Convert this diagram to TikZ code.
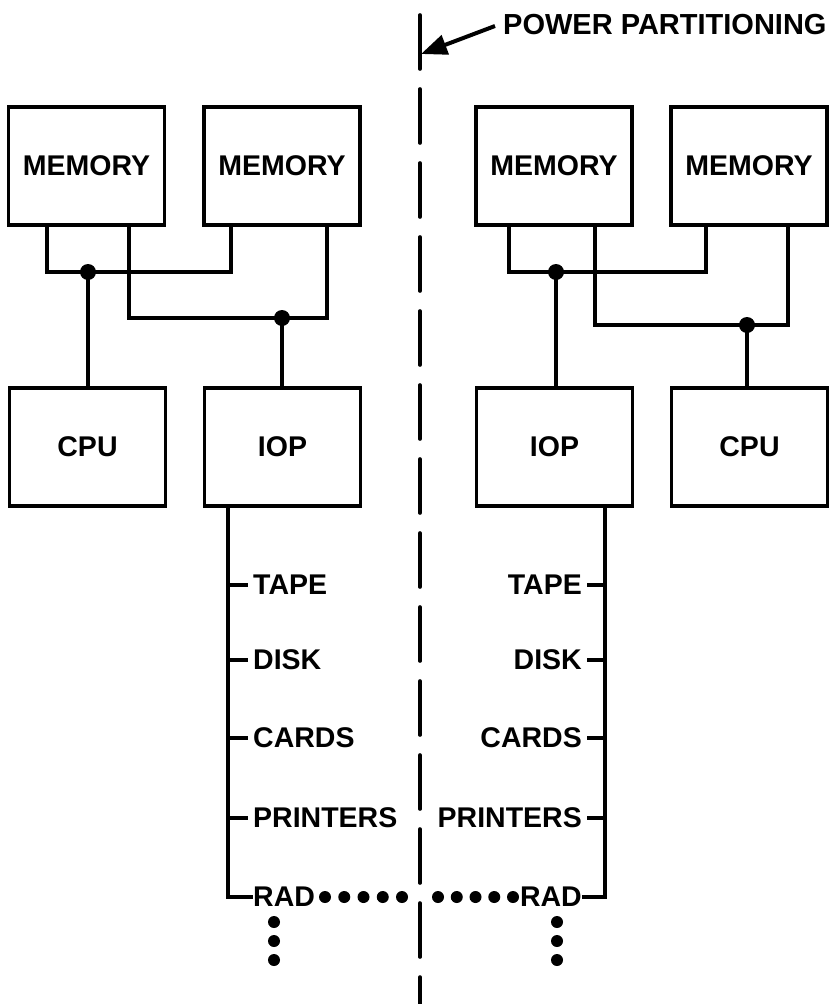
\documentclass[tikz,border=0pt]{standalone}
\usepackage{fontspec}
\setmainfont{Liberation Sans}
\usetikzlibrary{arrows.meta,calc}
\begin{document}
\begin{tikzpicture}[x=1pt,y=-1pt,
  unit/.style={draw,line width=3.2pt,minimum width=156pt,minimum height=118pt,inner sep=0pt,font=\fontsize{28.5}{31}\selectfont\bfseries},
  wire/.style={line width=3.2pt,line join=miter},
  lab/.style={inner sep=0pt,font=\fontsize{28.5}{31}\selectfont\bfseries},
  junc/.style={fill=black},
  partline/.style={line width=3.6pt,line cap=round,dash pattern=on 54pt off 20pt}]
\useasboundingbox (0,0) rectangle (833,1004);
% boxes
\node[unit] (m1) at (86.5,166) {MEMORY};
\node[unit] (m2) at (282,166) {MEMORY};
\node[unit] (c1) at (87.5,447) {CPU};
\node[unit] (i1) at (282.5,447) {IOP};
\node[unit] (m3) at (554,166) {MEMORY};
\node[unit] (m4) at (749,166) {MEMORY};
\node[unit] (i2) at (554.5,447) {IOP};
\node[unit] (c2) at (749.5,447) {CPU};
% left buses
\coordinate (la1) at (47,272); \coordinate (lb1) at (231,272); \coordinate (lj1) at (88,272);
\coordinate (la2) at (129,318); \coordinate (lb2) at (327,318); \coordinate (lj2) at (282,318);
\draw[wire] (m1.south -| la1) -- (la1) -- (lb1) -- (m2.south -| lb1);
\draw[wire] (m1.south -| la2) -- (la2) -- (lb2) -- (m2.south -| lb2);
\draw[wire] (lj1) -- (c1.north -| lj1);
\draw[wire] (lj2) -- (i1.north -| lj2);
\fill[junc] (lj1) circle (8pt);
\fill[junc] (lj2) circle (8pt);
% right buses
\coordinate (ra1) at (509,272); \coordinate (rb1) at (706,272); \coordinate (rj1) at (556,272);
\coordinate (ra2) at (595,325); \coordinate (rb2) at (788,325); \coordinate (rj2) at (747,325);
\draw[wire] (m3.south -| ra1) -- (ra1) -- (rb1) -- (m4.south -| rb1);
\draw[wire] (m3.south -| ra2) -- (ra2) -- (rb2) -- (m4.south -| rb2);
\draw[wire] (rj1) -- (i2.north -| rj1);
\draw[wire] (rj2) -- (c2.north -| rj2);
\fill[junc] (rj1) circle (8pt);
\fill[junc] (rj2) circle (8pt);
% left peripherals
\coordinate (lbus) at (228,897);
\node[lab,anchor=west] (lt) at (253,585) {TAPE};
\node[lab,anchor=west] (ld) at (253,660) {DISK};
\node[lab,anchor=west] (lc) at (253,738) {CARDS};
\node[lab,anchor=west] (lp) at (253,818) {PRINTERS};
\node[lab,anchor=west] (lr) at (253,897) {RAD};
\draw[wire] (i1.south -| lbus) -- (lbus) -- (lr.west);
\foreach \n in {lt,ld,lc,lp} \draw[wire] (\n.west -| lbus) -- ($(\n.west)+(-5,0)$);
% right peripherals
\coordinate (rbus) at (605,897);
\node[lab,anchor=east] (rt) at (582,585) {TAPE};
\node[lab,anchor=east] (rd) at (582,660) {DISK};
\node[lab,anchor=east] (rc) at (582,738) {CARDS};
\node[lab,anchor=east] (rp) at (582,818) {PRINTERS};
\node[lab,anchor=east] (rr) at (582,897) {RAD};
\draw[wire] (i2.south -| rbus) -- (rbus) -- (rr.east);
\foreach \n in {rt,rd,rc,rp} \draw[wire] (\n.east -| rbus) -- ($(\n.east)+(5,0)$);
% dots
\foreach \x in {325,344.25,363.5,382.75,402} \fill (\x,897) circle (6pt);
\foreach \x in {438,456.75,475.5,494.25,513} \fill (\x,897) circle (6pt);
\foreach \y in {922,941,960} {\fill (274,\y) circle (6pt); \fill (557,\y) circle (6pt);}
% partition line
\coordinate (ptop) at (420,15);
\coordinate (pbot) at (420,1004);
\draw[partline] (ptop) -- (pbot);
\node[lab,anchor=west,font=\fontsize{29}{31}\selectfont\bfseries] (title) at (503,25) {POWER PARTITIONING};
\coordinate (ptip) at (421,54);
\draw[line width=4pt,-{Triangle[length=26pt,width=20pt]}] (title.west) ++(-8,1) -- (ptip);
\end{tikzpicture}
\end{document}
